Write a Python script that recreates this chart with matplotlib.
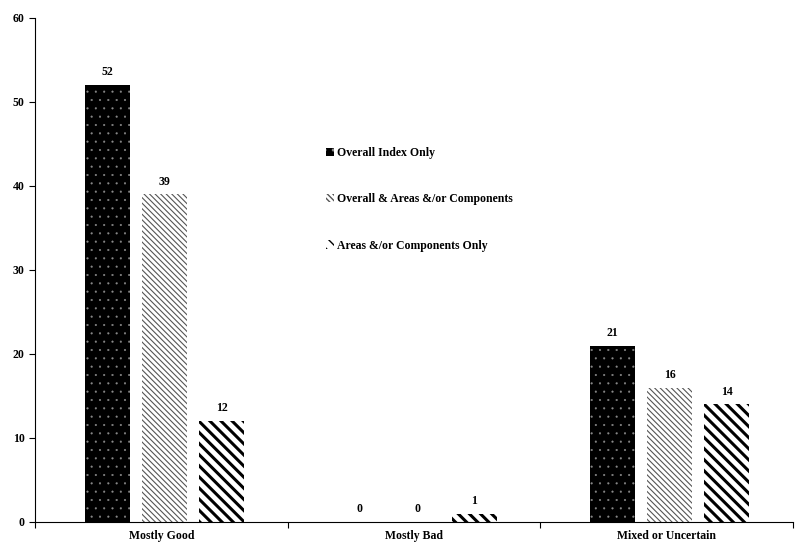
import matplotlib.pyplot as plt
import numpy as np

categories = ['Mostly Good', 'Mostly Bad', 'Mixed or Uncertain']
series = ['Overall Index Only', 'Overall & Areas &/or Components', 'Areas &/or Components Only']
overall_only = [52, 0, 21]
overall_areas = [39, 0, 16]
areas_only = [12, 1, 14]

plt.rcParams['font.family'] = 'Liberation Serif'
plt.rcParams['font.weight'] = 'bold'

fig = plt.figure(figsize=(7.97, 5.44), dpi=100)
ax = fig.add_axes([35 / 797, 22 / 544, 758 / 797, 504 / 544])

x = np.arange(len(categories))
w = 0.178
step = 0.226
styles = [
    dict(facecolor='black', edgecolor='#8a8a8a', hatch='..', hlw=0.3),
    dict(facecolor='white', edgecolor='#555555', hatch='\\\\\\\\\\\\', hlw=0.8),
    dict(facecolor='white', edgecolor='black', hatch='\\\\\\', hlw=2.2),
]
for i, (vals, st) in enumerate(zip([overall_only, overall_areas, areas_only], styles)):
    pos = x + 0.012 + (i - 1) * step
    with plt.rc_context({'hatch.linewidth': st['hlw']}):
        bars = ax.bar(pos, vals, width=w, facecolor=st['facecolor'],
                      edgecolor=st['edgecolor'], hatch=st['hatch'], linewidth=0,
                      label=series[i])
        for b in bars:
            if hasattr(b, 'set_hatch_linewidth'):
                b.set_hatch_linewidth(st['hlw'])
    for xi, v in zip(pos, vals):
        ax.text(xi, v + 0.8, str(v), ha='center', va='bottom', fontsize=8.5, fontweight='bold')

ax.set_xlim(-0.5, 2.5)
ax.set_ylim(0, 60)
ax.set_yticks(range(0, 61, 10))
ax.set_xticks([-0.5, 0.5, 1.5, 2.5])
ax.set_xticklabels([])
ax.set_xticks(x, minor=True)
ax.set_xticklabels(categories, minor=True)
ax.tick_params(axis='x', which='minor', length=0, labelsize=8.5, pad=6)
ax.tick_params(axis='x', which='major', length=4, direction='out')
ax.tick_params(axis='y', labelsize=8.5, length=4, direction='out')
for lab in ax.get_xticklabels(minor=True) + ax.get_yticklabels():
    lab.set_fontweight('bold')
ax.spines['top'].set_visible(False)
ax.spines['right'].set_visible(False)

ax.legend(loc='upper left', bbox_to_anchor=(0.37, 0.765), frameon=False,
          handlelength=0.7, handleheight=0.7, handletextpad=0.2,
          labelspacing=2.9, prop={'weight': 'bold', 'size': 8.5})

fig.savefig('out.png', dpi=100)
